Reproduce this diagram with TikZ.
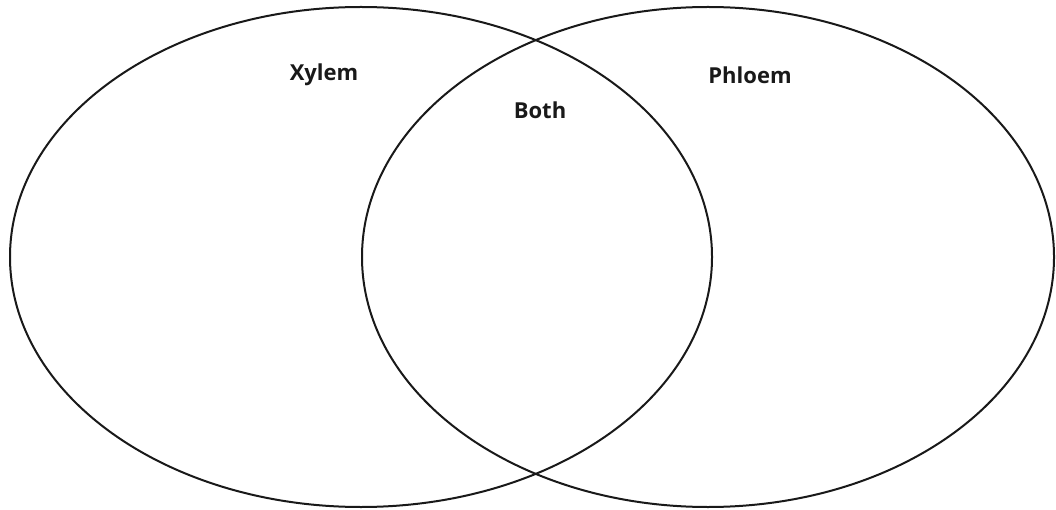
\documentclass[tikz,border=0pt]{standalone}
\usepackage{fontspec}
\setmainfont{Open Sans}
\begin{document}
\begin{tikzpicture}[x=1pt,y=-1pt,
  venn/.style={draw=black!90,line width=2pt},
  lbl/.style={font=\fontsize{22}{26}\selectfont\bfseries,text=black!90,inner sep=0pt}]
\useasboundingbox (0,0) rectangle (1056,510);
\draw[venn] (361,257) ellipse [x radius=351, y radius=250];
\draw[venn] (708,257) ellipse [x radius=346, y radius=250];
\node[lbl] (xylem) at (324,75) {Xylem};
\node[lbl] (phloem) at (750,75) {Phloem};
\node[lbl] (both) at (540,110) {Both};
\end{tikzpicture}
\end{document}
